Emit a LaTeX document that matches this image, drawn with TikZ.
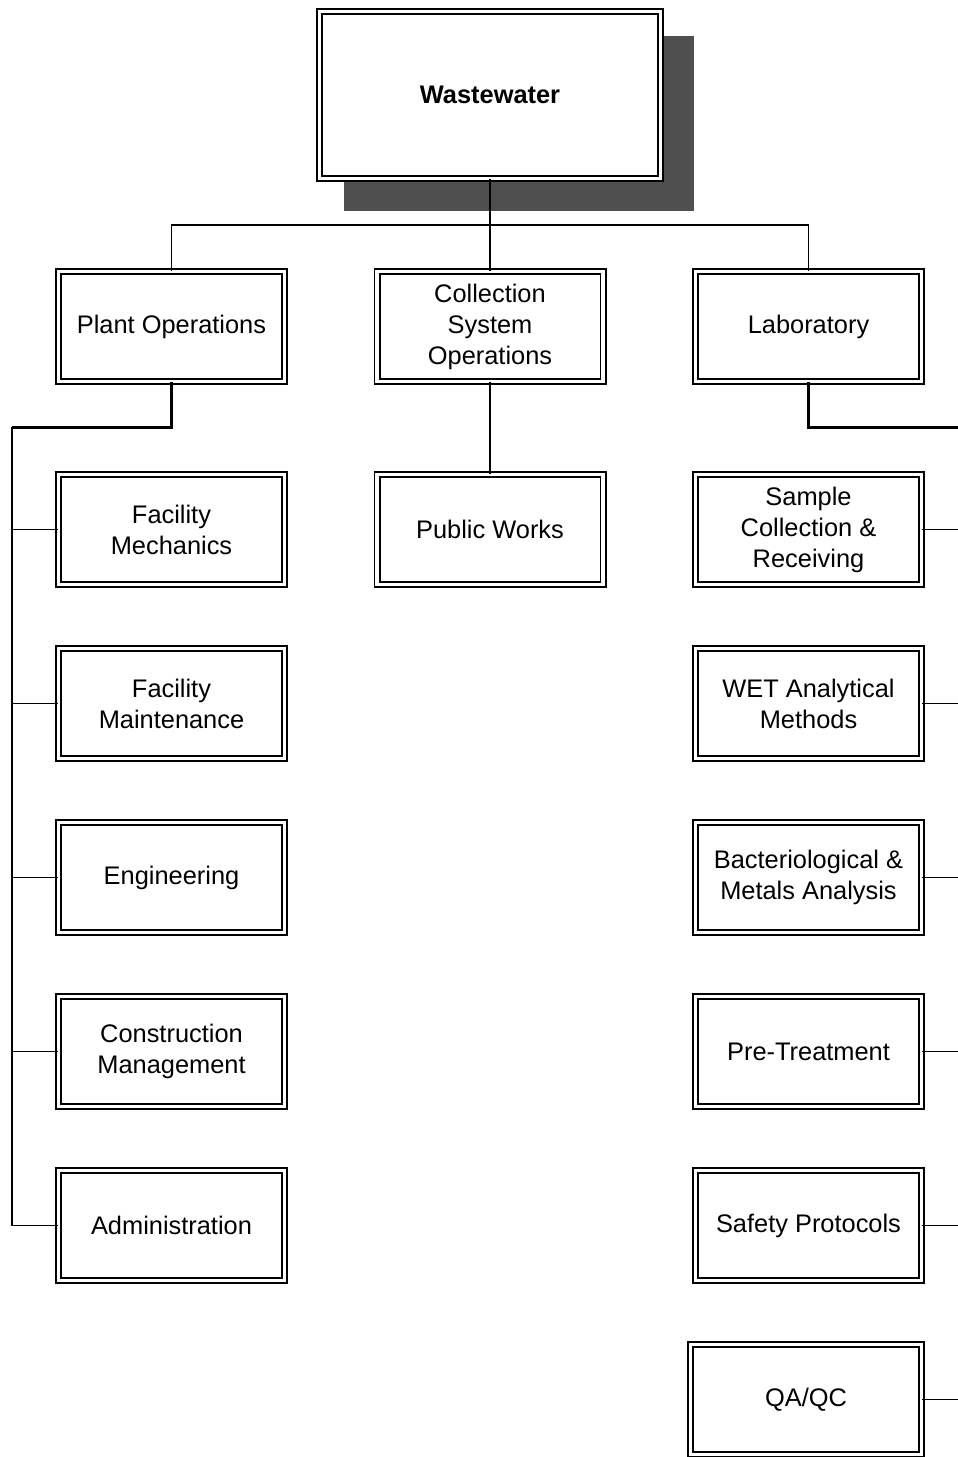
\documentclass[tikz,border=0pt]{standalone}
\usepackage{fontspec}
\setmainfont{Liberation Sans}
\usetikzlibrary{positioning,calc}
\newcommand{\unitfont}{\fontsize{25.4pt}{31pt}\selectfont}

\begin{document}
\begin{tikzpicture}[x=1pt,y=-1pt,
    unit/.style={draw, line width=1.7pt, double, double distance=3.6pt, fill=white,
        minimum width=226pt, minimum height=110pt, inner sep=2pt, align=center, font=\unitfont},
    link/.style={line width=1.8pt},
    trunk/.style={line width=3pt}]
    \useasboundingbox (0,0) rectangle (958,1457);
    \clip (0,0) rectangle (958,1457);

    % Head box with its shadow
    \fill[black!69] (344,36) rectangle (694,211);
    \node[unit, minimum width=341pt, minimum height=167pt, font=\unitfont\bfseries] (ww) at (490,95) {Wastewater};

    % Divisions
    \node[unit] (plant) at (171.5,326.5) {Plant Operations};
    \node[unit] (coll) at (490,326.5) {Collection\\System\\Operations};
    \node[unit] (lab) at (808.5,326.5) {Laboratory};

    % Plant side
    \node[unit] (mech) at (171.5,529.5) {Facility\\Mechanics};
    \node[unit] (maint) at (171.5,703.5) {Facility\\Maintenance};
    \node[unit] (eng) at (171.5,877.5) {Engineering};
    \node[unit] (cons) at (171.5,1051.5) {Construction\\Management};
    \node[unit] (admin) at (171.5,1225.5) {Administration};

    % Collection side
    \node[unit] (pw) at (490,529.5) {Public Works};

    % Lab side
    \node[unit] (samp) at (808.5,529.5) {Sample\\Collection \&\\Receiving};
    \node[unit] (wet) at (808.5,703.5) {WET Analytical\\Methods};
    \node[unit] (bact) at (808.5,877.5) {Bacteriological \&\\Metals Analysis};
    \node[unit] (pre) at (808.5,1051.5) {Pre-Treatment};
    \node[unit] (safe) at (808.5,1225.5) {Safety Protocols};
    \node[unit, minimum width=231pt] (qa) at (806,1399.5) {QA/QC};

    % Connectors
    \coordinate (bus) at (490,225);
    \coordinate (lspine) at (12,427);
    \coordinate (rspine) at (985,427);
    \draw[link] (ww.south) -- (coll.north);
    \draw[link] (plant.north) |- (bus) -| (lab.north);
    \draw[link] (coll.south) -- (pw.north);
    \draw[trunk] (plant.south) |- (lspine);
    \draw[trunk] (lab.south) |- (rspine);
    \draw[link] (lspine) |- (admin.west);
    \draw[link] (rspine) |- (qa.east);
    \foreach \n in {mech,maint,eng,cons} {
        \draw[link] (\n.west) -- (lspine |- \n.west);
    }
    \foreach \n in {samp,wet,bact,pre,safe} {
        \draw[link] (\n.east) -- (rspine |- \n.east);
    }
\end{tikzpicture}
\end{document}
